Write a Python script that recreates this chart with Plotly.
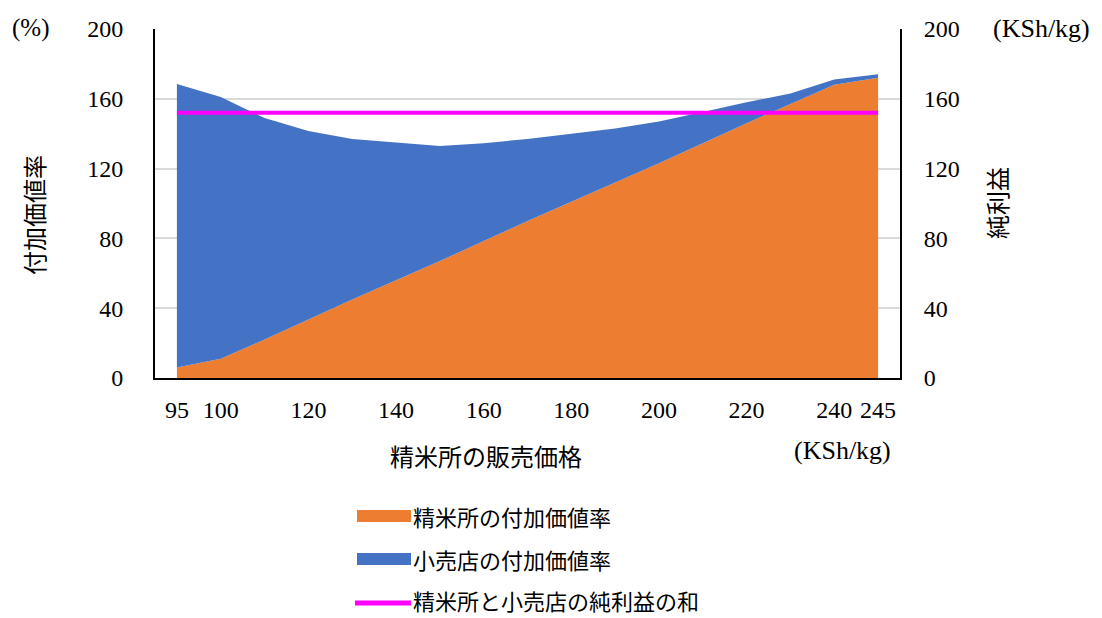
import plotly.graph_objects as go

prices = ["95", "100", "110", "120", "130", "140", "150", "160", "170", "180",
          "190", "200", "210", "220", "230", "240", "245"]
tick_labels = ["95", "100", "120", "140", "160", "180", "200", "220", "240", "245"]
mill_rate = [6, 11, 22, 33.5, 45, 56, 67, 78.5, 90, 101, 112, 123, 134.5, 146, 157, 168, 172]
retail_rate = [162.5, 150, 127, 108, 92, 79, 66, 56, 47, 39, 31, 24, 18, 12, 6, 3, 2]
profit_sum = [152] * len(prices)

ORANGE = "#ED7D31"
BLUE = "#4472C4"
MAGENTA = "#FF00FF"
FONT = "Liberation Serif, Noto Sans CJK JP"
JFONT = "Noto Sans CJK JP"
NUM = 24

fig = go.Figure()
fig.add_trace(go.Scatter(x=prices, y=mill_rate, stackgroup="one", mode="none",
                         fillcolor=ORANGE, name="精米所の付加価値率", showlegend=False))
fig.add_trace(go.Scatter(x=prices, y=retail_rate, stackgroup="one", mode="none",
                         fillcolor=BLUE, name="小売店の付加価値率", showlegend=False))
fig.add_trace(go.Scatter(x=prices, y=profit_sum, mode="lines", yaxis="y2",
                         line=dict(color=MAGENTA, width=4), name="精米所と小売店の純利益の和",
                         showlegend=False))

fig.update_layout(
    width=1102, height=618,
    margin=dict(l=155, r=202, t=29, b=240),
    paper_bgcolor="white", plot_bgcolor="white",
    font=dict(family=FONT, size=20, color="black"),
    xaxis=dict(type="category", categoryorder="array", categoryarray=prices,
               range=[-0.5, len(prices) - 0.5], tickmode="array",
               tickvals=tick_labels, ticktext=tick_labels,
               showline=True, linecolor="black", linewidth=2, showgrid=False,
               ticks="outside", ticklen=9, tickcolor="rgba(0,0,0,0)",
               tickfont=dict(family=FONT, size=NUM)),
    yaxis=dict(range=[0, 200], dtick=40, showline=True, linecolor="black", linewidth=2,
               showgrid=True, gridcolor="#D9D9D9", gridwidth=1.5, zeroline=False,
               ticks="outside", ticklen=25, tickcolor="rgba(0,0,0,0)",
               tickfont=dict(family=FONT, size=NUM)),
    yaxis2=dict(range=[0, 200], dtick=40, overlaying="y", side="right",
                showline=True, linecolor="black", linewidth=2, showgrid=False,
                zeroline=False, ticks="outside", ticklen=17, tickcolor="rgba(0,0,0,0)",
                tickfont=dict(family=FONT, size=NUM)),
)

annotations = [
    dict(text="(%)", x=30, y=28, font=dict(family=FONT, size=25)),
    dict(text="(KSh/kg)", x=1041, y=28, font=dict(family=FONT, size=26)),
    dict(text="(KSh/kg)", x=842, y=450, font=dict(family=FONT, size=26)),
    dict(text="精米所の販売価格", x=486, y=455, font=dict(family=JFONT, size=24)),
    dict(text="付加価値率", x=33, y=215, textangle=-90, font=dict(family=JFONT, size=24)),
    dict(text="純利益", x=996, y=203, textangle=-90, font=dict(family=JFONT, size=24)),
]
legend_items = [("精米所の付加価値率", ORANGE, 516, "rect"),
                ("小売店の付加価値率", BLUE, 559, "rect"),
                ("精米所と小売店の純利益の和", MAGENTA, 600, "line")]
shapes = []
for label, color, yc, kind in legend_items:
    annotations.append(dict(text=label, x=411, y=yc, xanchor="left",
                            font=dict(family=JFONT, size=22)))
    if kind == "rect":
        shapes.append(dict(type="rect", xref="paper", yref="paper",
                           x0=(357 - 155) / 745, x1=(411 - 155) / 745,
                           y0=(378 - (yc + 6)) / 349, y1=(378 - (yc - 6)) / 349,
                           fillcolor=color, line=dict(width=0)))
    else:
        shapes.append(dict(type="line", xref="paper", yref="paper",
                           x0=(355 - 155) / 745, x1=(411 - 155) / 745,
                           y0=(378 - (yc + 3)) / 349, y1=(378 - (yc + 3)) / 349,
                           line=dict(color=color, width=5)))

ann_out = []
for a in annotations:
    px, py = a.pop("x"), a.pop("y")
    a.setdefault("xanchor", "center")
    ann_out.append(dict(a, xref="paper", yref="paper",
                        x=(px - 155) / 745, y=(378 - py) / 349,
                        yanchor="middle", showarrow=False))
fig.update_layout(annotations=ann_out, shapes=shapes)

fig.write_html("out.html")
